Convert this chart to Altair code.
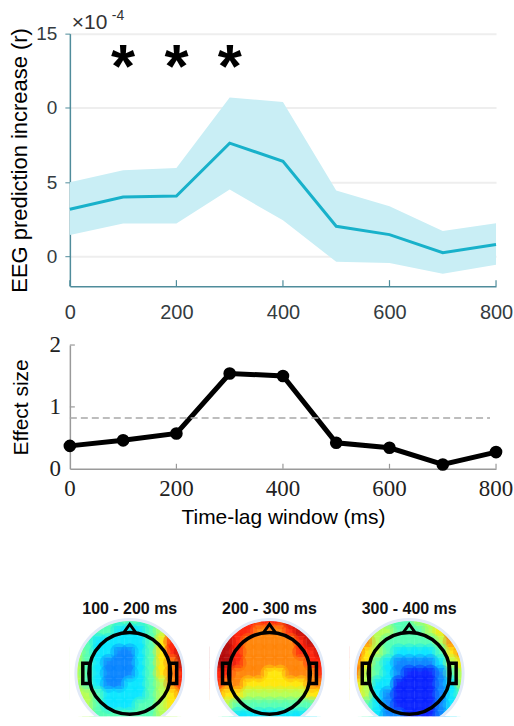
import altair as alt
import pandas as pd

# ---------------- data ----------------
lags = [0, 100, 200, 300, 400, 500, 600, 700, 800]
eeg_mean = [3.18, 4.00, 4.07, 7.63, 6.40, 2.03, 1.47, 0.25, 0.81]
eeg_hi = [5.00, 5.81, 5.95, 10.70, 10.40, 4.44, 3.38, 1.71, 2.23]
eeg_lo = [1.44, 2.21, 2.21, 4.50, 2.43, -0.36, -0.45, -1.17, -0.56]
sig_lags = [100, 200, 300]
sig_level = 12.77
effect = [0.37, 0.46, 0.57, 1.54, 1.50, 0.42, 0.34, 0.07, 0.27]
threshold = [0.82]
x_ticks = [0, 200, 400, 600, 800]
top_y_ticks = [0, 5, 10, 15]
mid_y_ticks = [0, 1, 2]

topo_titles = ["100 - 200 ms", "200 - 300 ms", "300 - 400 ms"]
# 11x11 grids (rows top->bottom, cols left->right), level 0 (dark blue) .. 9 (dark red)
topo_100_200 = [
    "44444444567",
    "44443334578",
    "54333334689",
    "54332234689",
    "54322234679",
    "54322234678",
    "54322334578",
    "55433334567",
    "55433344566",
    "55444444556",
    "55544444555",
]
topo_200_300 = [
    "88888889999",
    "99887778999",
    "99877777899",
    "99877777889",
    "99877777788",
    "88777667778",
    "87766666677",
    "76655555566",
    "55444444445",
    "44333333334",
    "33322222333",
]
topo_300_400 = [
    "55544455788",
    "76554445688",
    "87544444578",
    "86543333467",
    "76432222356",
    "75432111245",
    "65331111235",
    "65321111234",
    "54321111234",
    "44322111233",
    "43322222333",
]
topo_grids = [topo_100_200, topo_200_300, topo_300_400]

# ---------------- styling ----------------
SANS = "Liberation Sans"
SERIF = "'Liberation Serif', 'Times New Roman', Tinos, 'DejaVu Serif', serif"
TEAL_AXIS = "#4f8c9b"
LABEL_C = "#333b40"
LINE_C = "#18b1ca"
BAND_C = "#c9eef5"
W = 427
H_TOP = 253
H_MID = 124

# ---------------- top panel ----------------
df_top = pd.DataFrame({"lag": lags, "mean": eeg_mean, "hi": eeg_hi, "lo": eeg_lo})
xs_top = alt.Scale(domain=[0, 800], nice=False)
ys_top = alt.Scale(domain=[-2, 15], nice=False)

x_top_axis = alt.Axis(values=x_ticks, tickSize=0, domainColor=TEAL_AXIS, domainWidth=1.5,
                      labelFont=SANS, labelFontSize=20, labelColor=LABEL_C, labelPadding=16,
                      grid=False, title=None, labelFlush=False, format="d", labelOverlap=False)
y_top_axis = alt.Axis(values=top_y_ticks, tickSize=5, tickColor=TEAL_AXIS, domainColor=TEAL_AXIS,
                      domainWidth=1.5, labelFont=SANS, labelFontSize=19, labelColor=LABEL_C,
                      labelPadding=8, grid=True, gridColor="#eeeeee", gridWidth=2,
                      labelExpr="datum.value == 10 ? '0' : datum.label", format="d",
                      labelOverlap=False,
                      title="EEG prediction increase (r)", titleFont=SANS, titleFontSize=22,
                      titleFontWeight="normal", titleColor="black", titlePadding=4)

band = alt.Chart(df_top).mark_area(color=BAND_C, opacity=1).encode(
    x=alt.X("lag:Q", scale=xs_top, axis=x_top_axis),
    y=alt.Y("lo:Q", scale=ys_top, axis=y_top_axis),
    y2="hi:Q",
)
line = alt.Chart(df_top).mark_line(color=LINE_C, strokeWidth=3).encode(
    x=alt.X("lag:Q", scale=xs_top), y=alt.Y("mean:Q", scale=ys_top)
)
top_ticks = alt.Chart(pd.DataFrame({"t": x_ticks})).mark_rule(color=TEAL_AXIS, strokeWidth=1.2).encode(
    x=alt.X("t:Q", scale=xs_top), y=alt.value(H_TOP - 6), y2=alt.value(H_TOP)
)
stars = alt.Chart(pd.DataFrame({"lag": sig_lags, "y": [sig_level] * len(sig_lags), "s": ["*"] * len(sig_lags)})).mark_text(
    font=SANS, fontSize=62, fontWeight="bold", color="black", baseline="middle", dy=1
).encode(x=alt.X("lag:Q", scale=xs_top), y=alt.Y("y:Q", scale=ys_top), text="s:N")
exp_base = alt.Chart(pd.DataFrame({"t": ["\u00d710"]})).mark_text(
    font=SANS, fontSize=21, color="#333333", align="left", baseline="alphabetic"
).encode(x=alt.value(2), y=alt.value(-5), text="t:N")
exp_sup = alt.Chart(pd.DataFrame({"t": ["-4"]})).mark_text(
    font=SANS, fontSize=14, color="#333333", align="left", baseline="alphabetic"
).encode(x=alt.value(42), y=alt.value(-14), text="t:N")

top = alt.layer(band, line, top_ticks, stars, exp_base, exp_sup).properties(width=W, height=H_TOP)

# ---------------- middle panel ----------------
df_mid = pd.DataFrame({"lag": lags, "eff": effect})
xs_mid = alt.Scale(domain=[0, 800], nice=False)
ys_mid = alt.Scale(domain=[0, 2], nice=False)
x_mid_axis = alt.Axis(values=x_ticks, tickSize=0, domainColor="#9a9a9a", domainWidth=1.5,
                      labels=False, grid=False,
                      title="Time-lag window (ms)", titleFont=SANS, titleFontSize=21,
                      titleFontWeight="normal", titleColor="black", titlePadding=37)
y_mid_axis = alt.Axis(values=mid_y_ticks, tickSize=0, domainColor="#9a9a9a", domainWidth=1.5,
                      labels=False, grid=False,
                      title="Effect size", titleFont=SANS, titleFontSize=21,
                      titleFontWeight="normal", titleColor="black", titlePadding=38)

eff_line = alt.Chart(df_mid).mark_line(color="black", strokeWidth=5).encode(
    x=alt.X("lag:Q", scale=xs_mid, axis=x_mid_axis), y=alt.Y("eff:Q", scale=ys_mid, axis=y_mid_axis)
)
thr = alt.Chart(pd.DataFrame({"y": threshold})).mark_rule(color="#a8a8a8", strokeWidth=1.5, strokeDash=[7, 4]).encode(
    y=alt.Y("y:Q", scale=ys_mid), x=alt.value(0), x2=alt.value(W - 6)
)
eff_pts = alt.Chart(df_mid).mark_circle(color="black", size=160, opacity=1).encode(
    x=alt.X("lag:Q", scale=xs_mid), y=alt.Y("eff:Q", scale=ys_mid)
)
mid_xt = alt.Chart(pd.DataFrame({"t": x_ticks[1:]})).mark_rule(color="#9a9a9a", strokeWidth=1.2).encode(
    x=alt.X("t:Q", scale=xs_mid), y=alt.value(H_MID - 5), y2=alt.value(H_MID)
)
mid_yt = alt.Chart(pd.DataFrame({"t": mid_y_ticks[1:]})).mark_rule(color="#9a9a9a", strokeWidth=1.2).encode(
    y=alt.Y("t:Q", scale=ys_mid), x=alt.value(0), x2=alt.value(5)
)
mid_xlab = alt.Chart(pd.DataFrame({"t": x_ticks, "s": [str(v) for v in x_ticks]})).mark_text(
    font=SERIF, fontSize=23, color="#222222", baseline="top", align="center"
).encode(x=alt.X("t:Q", scale=xs_mid), y=alt.value(H_MID + 9), text="s:N")
mid_ylab = alt.Chart(pd.DataFrame({"t": mid_y_ticks, "s": [str(v) for v in mid_y_ticks]})).mark_text(
    font=SERIF, fontSize=23, color="#222222", baseline="middle", align="right"
).encode(y=alt.Y("t:Q", scale=ys_mid), x=alt.value(-9), text="s:N")
mid = alt.layer(eff_line, thr, eff_pts, mid_xt, mid_yt, mid_xlab, mid_ylab).properties(width=W, height=H_MID)

# ---------------- topographic maps ----------------
PX = 53.0          # pixels per unit radius
PW = 140           # panel width
PH = 189           # panel height
CX = 60            # circle centre, px from panel left
CY = 146           # circle centre, px from panel top
xs_topo = alt.Scale(domain=[-CX / PX, (PW - CX) / PX], nice=False, zero=False)
ys_topo = alt.Scale(domain=[(CY - PH) / PX, CY / PX], nice=False, zero=False)
jet = alt.Scale(domain=[-0.5, 0.75, 3.25, 5.75, 8.25, 9.5],
                range=["#00007f", "#0000ff", "#00ffff", "#ffff00", "#ff0000", "#7f0000"],
                interpolate="rgb")

head_parts = pd.DataFrame({
    "part": ["ring", "nose", "ear", "ear"],
    "x": [0.0, 0.0, -0.82, 0.82],
    "y": [0.0, 0.85, 0.0, 0.0],
})


def topo_panel(grid, title):
    rows = []
    n = len(grid)
    for r, row in enumerate(grid):
        for c, ch in enumerate(row):
            xc = -1 + 2 * c / (n - 1)
            yc = 1 - 2 * r / (n - 1)
            if (xc ** 2 + yc ** 2) ** 0.5 <= 1.15:
                rows.append({"x": xc, "y": yc, "x0": xc - 0.1, "x1": xc + 0.1,
                             "y0": yc - 0.1, "y1": yc + 0.1, "v": int(ch)})
    dcell = pd.DataFrame(rows)
    cells = alt.Chart(dcell).mark_rect(opacity=0.85, clip=True, strokeWidth=0).encode(
        x=alt.X("x0:Q", scale=xs_topo, axis=None), x2="x1:Q",
        y=alt.Y("y0:Q", scale=ys_topo, axis=None), y2="y1:Q",
        color=alt.Color("v:Q", scale=jet, legend=None),
    )
    soft = alt.Chart(dcell).mark_circle(opacity=0.35, clip=True, size=(0.2 * PX * 1.7) ** 2).encode(
        x=alt.X("x:Q", scale=xs_topo), y=alt.Y("y:Q", scale=ys_topo),
        color=alt.Color("v:Q", scale=jet, legend=None),
    )
    centre = alt.Chart(head_parts[head_parts.part == "ring"])
    mask = centre.mark_point(shape="circle", filled=False, stroke="white", strokeWidth=30,
                             size=(2 * PX + 30) ** 2, opacity=1, clip=True).encode(
        x=alt.X("x:Q", scale=xs_topo), y=alt.Y("y:Q", scale=ys_topo))
    halo = centre.mark_point(shape="circle", filled=False, stroke="#e1eaf8", strokeWidth=3,
                             size=(2 * PX + 2) ** 2, opacity=1, clip=True).encode(
        x=alt.X("x:Q", scale=xs_topo), y=alt.Y("y:Q", scale=ys_topo))
    ring = centre.mark_point(shape="circle", filled=False, stroke="black", strokeWidth=3.5,
                             size=(2 * 41) ** 2, opacity=1, clip=True).encode(
        x=alt.X("x:Q", scale=xs_topo), y=alt.Y("y:Q", scale=ys_topo))
    nose = alt.Chart(head_parts[head_parts.part == "nose"]).mark_point(
        shape="M-1,0.7 L0,-0.7 L1,0.7", filled=False, stroke="black", strokeWidth=3,
        size=144, opacity=1, clip=True).encode(
        x=alt.X("x:Q", scale=xs_topo), y=alt.Y("y:Q", scale=ys_topo))
    ears = alt.Chart(head_parts[head_parts.part == "ear"]).mark_point(
        shape="M-0.35,-1 L0.35,-1 L0.35,1 L-0.35,1 Z", filled=False, stroke="black", strokeWidth=3.5,
        size=420, opacity=1, clip=True).encode(
        x=alt.X("x:Q", scale=xs_topo), y=alt.Y("y:Q", scale=ys_topo))
    ttl = alt.Chart(pd.DataFrame({"x": [0.0], "y": [1.226], "t": [title]})).mark_text(
        font=SANS, fontSize=16, fontWeight="bold", color="#111111", baseline="middle").encode(
        x=alt.X("x:Q", scale=xs_topo), y=alt.Y("y:Q", scale=ys_topo), text="t:N")
    return alt.layer(cells, soft, mask, halo, ring, nose, ears, ttl).properties(width=PW, height=PH)


topo = alt.hconcat(*[topo_panel(g, t) for g, t in zip(topo_grids, topo_titles)], spacing=0, bounds="flush")

chart = alt.vconcat(top, mid, topo, spacing=59, bounds="flush").properties(
    padding={"left": 8, "top": 8, "right": 0, "bottom": 0}
).configure(background="white").configure_view(stroke=None)

chart.save("out.html", embed_options={"renderer": "svg", "actions": False})
